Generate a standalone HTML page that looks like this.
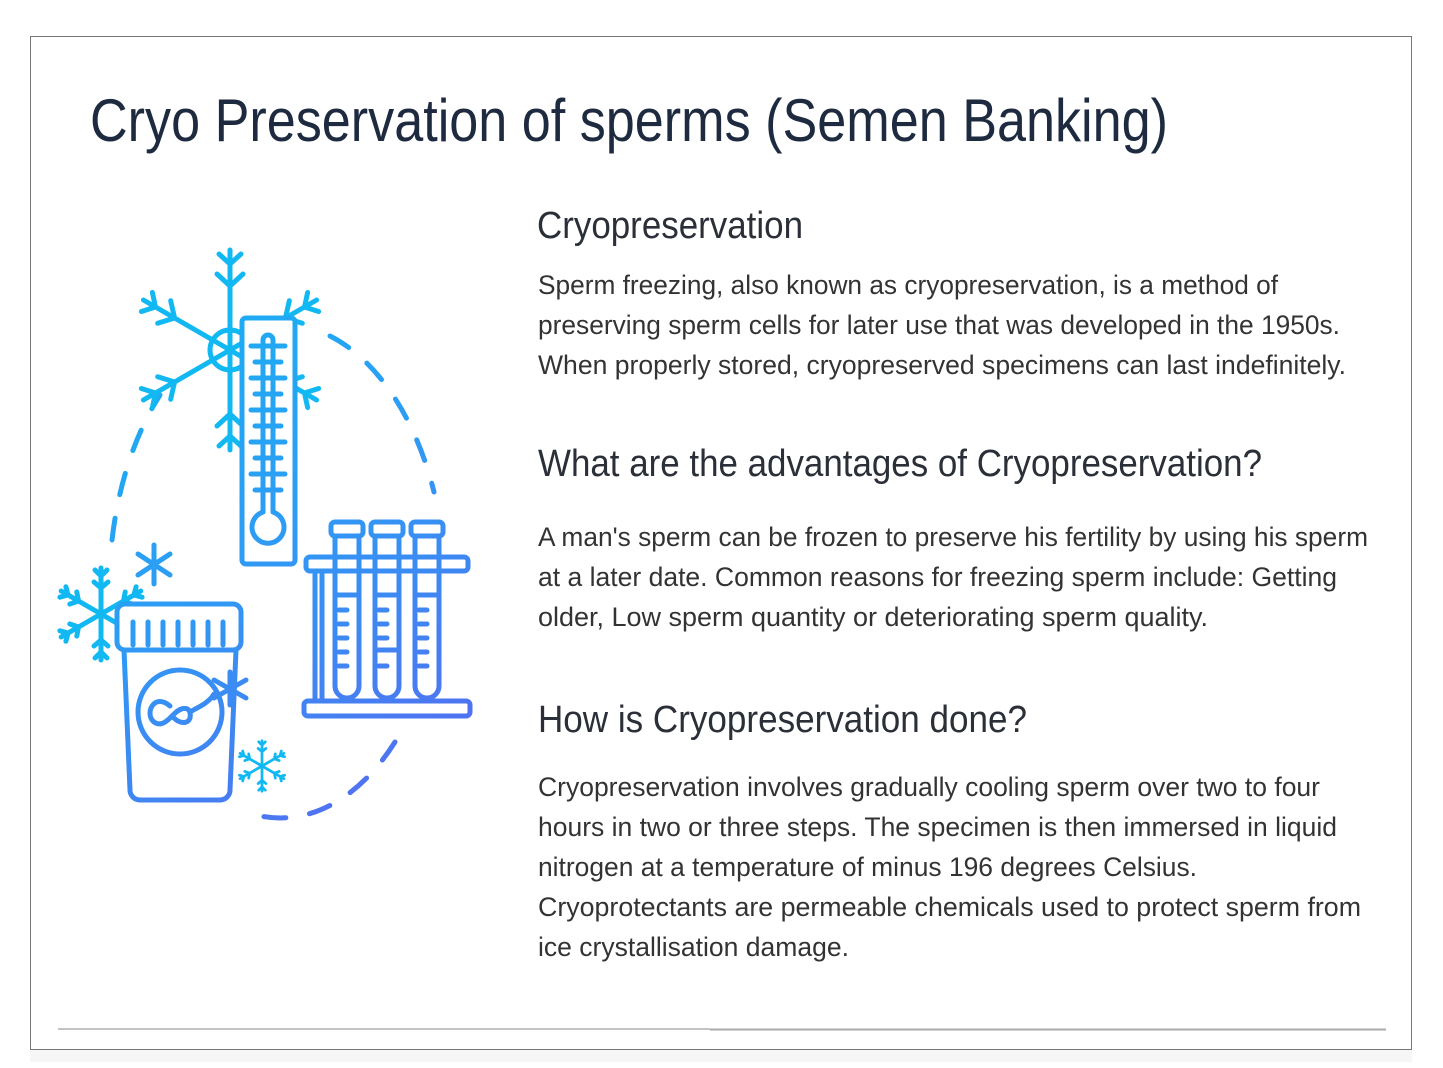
<!DOCTYPE html>
<html><head><meta charset="utf-8"><style>
html,body{margin:0;padding:0;background:#fff;}
svg{display:block;}
text{font-family:"Liberation Sans",sans-serif;}
</style></head><body>
<svg width="1443" height="1068" viewBox="0 0 1443 1068" xmlns="http://www.w3.org/2000/svg">
<defs>
<linearGradient id="gu" x1="70" y1="240" x2="470" y2="820" gradientUnits="userSpaceOnUse">
<stop offset="0" stop-color="#12b8f2"/><stop offset="0.5" stop-color="#2d9cf4"/><stop offset="1" stop-color="#5a66f0"/>
</linearGradient>
<g id="arm"><path d="M0 0 V-100 M-11 -96 L0 -86 L11 -96 M-13 -76 L0 -64 L13 -76"/></g>
<g id="sarm"><path d="M0 0 V-46 M-6 -44 L0 -38 L6 -44 M-7 -32 L0 -26 L7 -32"/></g>
</defs>
<rect x="30.5" y="36.5" width="1381" height="1013" fill="#fff" stroke="#777" stroke-width="1"/>
<rect x="30" y="1050" width="1382" height="12" fill="#f6f6f6"/>
<line x1="58" y1="1029" x2="710" y2="1029" stroke="#888" stroke-width="1"/>
<line x1="710" y1="1029.5" x2="1386" y2="1029.5" stroke="#aaa" stroke-width="2"/>

<g fill="#1e2a3f">
<text x="90" y="141" font-size="60" textLength="1078" lengthAdjust="spacingAndGlyphs">Cryo Preservation of sperms (Semen Banking)</text>
</g>
<g fill="#2a2f38">
<text x="537" y="238" font-size="38" textLength="266" lengthAdjust="spacingAndGlyphs">Cryopreservation</text>
<text x="538" y="476" font-size="38" textLength="724" lengthAdjust="spacingAndGlyphs">What are the advantages of Cryopreservation?</text>
<text x="538" y="732" font-size="38" textLength="489" lengthAdjust="spacingAndGlyphs">How is Cryopreservation done?</text>
</g>
<g fill="#333" font-size="27">
<text x="538" y="294" textLength="740" lengthAdjust="spacingAndGlyphs">Sperm freezing, also known as cryopreservation, is a method of</text>
<text x="538" y="334" textLength="802" lengthAdjust="spacingAndGlyphs">preserving sperm cells for later use that was developed in the 1950s.</text>
<text x="538" y="374" textLength="808" lengthAdjust="spacingAndGlyphs">When properly stored, cryopreserved specimens can last indefinitely.</text>
<text x="538" y="546" textLength="830" lengthAdjust="spacingAndGlyphs">A man's sperm can be frozen to preserve his fertility by using his sperm</text>
<text x="538" y="586" textLength="799" lengthAdjust="spacingAndGlyphs">at a later date. Common reasons for freezing sperm include: Getting</text>
<text x="538" y="626" textLength="670" lengthAdjust="spacingAndGlyphs">older, Low sperm quantity or deteriorating sperm quality.</text>
<text x="538" y="796" textLength="782" lengthAdjust="spacingAndGlyphs">Cryopreservation involves gradually cooling sperm over two to four</text>
<text x="538" y="836" textLength="799" lengthAdjust="spacingAndGlyphs">hours in two or three steps. The specimen is then immersed in liquid</text>
<text x="538" y="876" textLength="659" lengthAdjust="spacingAndGlyphs">nitrogen at a temperature of minus 196 degrees Celsius.</text>
<text x="538" y="916" textLength="823" lengthAdjust="spacingAndGlyphs">Cryoprotectants are permeable chemicals used to protect sperm from</text>
<text x="538" y="956" textLength="311" lengthAdjust="spacingAndGlyphs">ice crystallisation damage.</text>
</g>

<g fill="none" stroke="url(#gu)" stroke-width="5" stroke-linecap="round" stroke-linejoin="round">
<path d="M330 336 A165 270 0 0 1 434 492" stroke-dasharray="22 24"/>
<path d="M395 742 A165 270 0 0 1 256 815" stroke-dasharray="22 24"/>
<path d="M112 540 A165 270 0 0 1 160 395" stroke-dasharray="22 24"/>
<!-- big snowflake -->
<g transform="translate(230 350)">
<use href="#arm"/>
<use href="#arm" transform="rotate(-60)"/>
<use href="#arm" transform="rotate(-120)"/>
<use href="#arm" transform="rotate(180)"/>
<use href="#arm" transform="rotate(60)"/>
<use href="#arm" transform="rotate(120)"/>
<circle r="20"/>
</g>
<!-- thermometer -->
<rect x="242" y="318" width="53" height="246" rx="4" fill="#fff"/>
<path d="M263 340 a5 5 0 0 1 10 0 V512 a16 16 0 1 1 -10 0 Z"/>
<path d="M251 346 h34 M255 362 h26 M251 378 h34 M255 394 h26 M251 410 h34 M255 426 h26 M251 442 h34 M255 458 h26 M251 474 h34 M255 490 h26"/>
<!-- rack -->
<rect x="331" y="522" width="32" height="14" rx="4"/>
<rect x="371" y="522" width="32" height="14" rx="4"/>
<rect x="411" y="522" width="32" height="14" rx="4"/>
<rect x="306" y="557" width="162" height="14" rx="4"/>
<rect x="304" y="701" width="166" height="15" rx="4"/>
<path d="M335 536 V686 a12 12 0 0 0 24 0 V536 M375 536 V686 a12 12 0 0 0 24 0 V536 M415 536 V686 a12 12 0 0 0 24 0 V536"/>
<path d="M315 571 V701 M322 571 V701"/>
<path d="M335 595 h24 M375 595 h24 M415 595 h24 M375 650 h24"/>
<path d="M339 610 h8 M339 624 h8 M339 638 h8 M339 652 h8 M339 666 h8 M379 610 h8 M379 624 h8 M379 638 h8 M379 666 h8 M419 610 h8 M419 624 h8 M419 638 h8 M419 652 h8 M419 666 h8"/>
<!-- small left snowflake -->
<g transform="translate(101 614)">
<use href="#sarm"/><use href="#sarm" transform="rotate(60)"/><use href="#sarm" transform="rotate(120)"/>
<use href="#sarm" transform="rotate(180)"/><use href="#sarm" transform="rotate(240)"/><use href="#sarm" transform="rotate(300)"/>
</g>
<!-- cup -->
<rect x="117" y="604" width="124" height="46" rx="8" fill="#fff"/>
<path d="M133 622 V645 M148 622 V645 M163 622 V645 M178 622 V645 M193 622 V645 M208 622 V645 M223 622 V645"/>
<path d="M124 650 L130 790 a10 10 0 0 0 10 10 H220 a10 10 0 0 0 10 -10 L236 650"/>
<circle cx="180" cy="712" r="42"/>
<path d="M170 706 c-16 -14 -26 8 -16 16 c8 6 16 -4 20 -8 c8 -8 18 -8 16 4 c-2 6 -10 6 -16 0"/>
<path d="M190 712 c6 -4 18 -8 24 -18"/>
<path d="M154 545 V584 M138 554 L170 575 M138 575 L170 554"/>
<path d="M230 672 V705 M214 680 L246 698 M214 698 L246 680"/>
<g transform="translate(262 766) scale(0.55)">
<use href="#sarm"/><use href="#sarm" transform="rotate(60)"/><use href="#sarm" transform="rotate(120)"/>
<use href="#sarm" transform="rotate(180)"/><use href="#sarm" transform="rotate(240)"/><use href="#sarm" transform="rotate(300)"/>
</g>
</g>
</svg>
</body></html>
